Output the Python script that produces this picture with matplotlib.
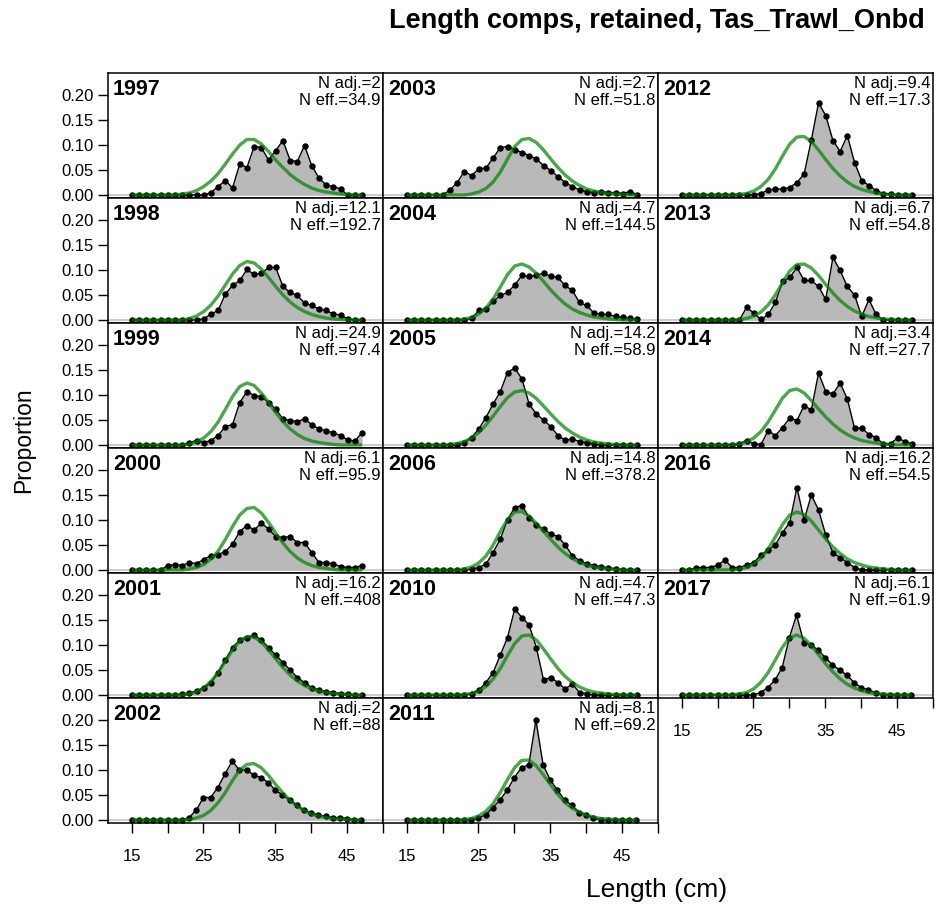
import numpy as np
import matplotlib
matplotlib.use("Agg")
import matplotlib.pyplot as plt

plt.rcParams['font.family'] = ['Liberation Sans', 'DejaVu Sans']

# length bins (cm)
lengths = list(range(15, 48))

# panel years in the order they are drawn (column by column)
col1_years = [1997, 1998, 1999, 2000, 2001, 2002]
col2_years = [2003, 2004, 2005, 2006, 2010, 2011]
col3_years = [2012, 2013, 2014, 2016, 2017]

n_adj = {1997: "2", 1998: "12.1", 1999: "24.9", 2000: "6.1", 2001: "16.2", 2002: "2",
         2003: "2.7", 2004: "4.7", 2005: "14.2", 2006: "14.8", 2010: "4.7", 2011: "8.1",
         2012: "9.4", 2013: "6.7", 2014: "3.4", 2016: "16.2", 2017: "6.1"}
n_eff = {1997: "34.9", 1998: "192.7", 1999: "97.4", 2000: "95.9", 2001: "408", 2002: "88",
         2003: "51.8", 2004: "144.5", 2005: "58.9", 2006: "378.2", 2010: "47.3", 2011: "69.2",
         2012: "17.3", 2013: "54.8", 2014: "27.7", 2016: "54.5", 2017: "61.9"}

# observed (obs_) and expected (exp_) proportions, bins 15..47
obs_1997 = [0, 0, 0, 0, 0, 0, 0, 0, 0, 0, 0,
            .005, .017, .029, .014, .062, .055, .097, .095, .070, .089, .109,
            .069, .067, .099, .059, .034, .020, .017, .012, 0, 0, 0]
exp_1997 = [0, 0, 0, 0, 0, 0, 0, .002, .004, .009, .017,
            .028, .043, .062, .082, .100, .111, .111, .102, .087, .070, .055,
            .041, .030, .021, .014, .009, .006, .004, .002, .001, 0, 0]

obs_1998 = [0, 0, 0, 0, 0, 0, 0, 0, 0, 0, .002,
            .012, .019, .052, .069, .079, .101, .091, .093, .105, .105, .067,
            .055, .049, .034, .029, .022, .019, .012, .010, .002, 0, 0]
exp_1998 = [0, 0, 0, 0, 0, 0, 0, 0, .003, .008, .017,
            .030, .048, .070, .092, .109, .117, .114, .102, .085, .067, .050,
            .036, .025, .017, .011, .007, .004, .002, .001, 0, 0, 0]

obs_1999 = [0, 0, 0, 0, 0, 0, 0, 0, .005, .009, .005,
            .009, .019, .037, .041, .085, .107, .099, .097, .085, .072, .052,
            .049, .047, .052, .041, .032, .029, .024, .019, .010, .008, .025]
exp_1999 = [0, 0, 0, 0, 0, 0, 0, 0, .002, .006, .014,
            .027, .046, .071, .097, .117, .124, .119, .104, .085, .065, .047,
            .032, .021, .013, .008, .005, .003, .001, 0, 0, 0, 0]

obs_2000 = [0, 0, 0, 0, 0, .009, .011, .009, .015, .013, .021,
            .029, .031, .037, .052, .077, .089, .080, .094, .082, .067, .065,
            .067, .055, .055, .035, .015, .015, .012, .007, .005, .005, .009]
exp_2000 = [0, 0, 0, 0, 0, 0, 0, 0, .002, .005, .011,
            .022, .038, .061, .087, .110, .123, .125, .114, .095, .074, .054,
            .037, .024, .015, .009, .005, .003, .001, 0, 0, 0, 0]

obs_2001 = [0, 0, 0, 0, 0, 0, 0, .002, .004, .008, .015,
            .025, .045, .070, .095, .110, .115, .120, .110, .095, .080, .065,
            .050, .035, .025, .015, .010, .007, .005, .003, .002, 0, 0]
exp_2001 = [0, 0, 0, 0, 0, 0, 0, 0, .002, .006, .014,
            .027, .045, .068, .090, .108, .117, .116, .106, .090, .072, .055,
            .040, .028, .019, .012, .008, .005, .003, .002, .001, 0, 0]

obs_2002 = [0, 0, 0, 0, 0, 0, 0, 0, .005, .020, .045,
            .045, .065, .092, .118, .100, .100, .090, .085, .075, .060, .050,
            .040, .030, .020, .015, .010, .008, .005, .005, .003, 0, 0]
exp_2002 = [0, 0, 0, 0, 0, 0, 0, 0, .001, .004, .009,
            .019, .034, .054, .078, .099, .111, .113, .105, .090, .072, .055,
            .040, .028, .019, .012, .008, .005, .003, .002, .001, 0, 0]

obs_2003 = [0, 0, 0, 0, 0, 0, .010, .025, .047, .039, .052,
            .054, .074, .095, .097, .091, .085, .079, .072, .059, .049, .037,
            .025, .017, .010, .007, .005, .007, .005, .005, .003, .007, .001]
exp_2003 = [0, 0, 0, 0, 0, 0, 0, 0, 0, .002, .006,
            .013, .026, .046, .072, .097, .111, .113, .105, .090, .072, .055,
            .040, .028, .019, .012, .008, .005, .003, .002, .001, 0, 0]

obs_2004 = [0, 0, 0, 0, 0, 0, 0, 0, 0, .003, .019,
            .022, .037, .049, .055, .070, .089, .087, .089, .094, .087, .085,
            .069, .059, .035, .029, .014, .011, .011, .007, .005, .003, .002]
exp_2004 = [0, 0, 0, 0, 0, 0, 0, 0, .002, .005, .012,
            .024, .042, .066, .091, .108, .112, .106, .093, .077, .060, .045,
            .032, .022, .015, .010, .006, .004, .002, .001, 0, 0, 0]

obs_2005 = [0, 0, 0, 0, 0, 0, 0, 0, .005, .015, .032,
            .055, .082, .107, .145, .154, .132, .082, .062, .050, .037, .019,
            .010, .012, .007, .005, .002, 0, 0, 0, 0, 0, 0]
exp_2005 = [0, 0, 0, 0, 0, 0, .001, .003, .007, .014, .025,
            .040, .058, .077, .095, .106, .109, .104, .093, .078, .062, .047,
            .034, .024, .016, .010, .006, .004, .002, .001, 0, 0, 0]

obs_2006 = [0, 0, 0, 0, 0, 0, 0, 0, 0, .002, .005,
            .012, .035, .062, .101, .125, .129, .105, .090, .082, .072, .067,
            .050, .029, .019, .012, .009, .007, .004, .003, .001, 0, 0]
exp_2006 = [0, 0, 0, 0, 0, 0, 0, 0, .002, .006, .014,
            .028, .050, .077, .101, .116, .117, .108, .093, .077, .061, .046,
            .033, .023, .015, .010, .006, .004, .002, .001, 0, 0, 0]

obs_2010 = [0, 0, 0, 0, 0, 0, 0, 0, 0, .003, .010,
            .025, .045, .080, .115, .172, .155, .140, .095, .030, .035, .025,
            .012, .022, .005, .003, 0, 0, 0, 0, 0, 0, 0]
exp_2010 = [0, 0, 0, 0, 0, 0, 0, 0, .001, .003, .008,
            .017, .032, .053, .079, .103, .118, .120, .110, .092, .072, .053,
            .037, .025, .016, .010, .006, .004, .002, .001, 0, 0, 0]

obs_2011 = [0, 0, 0, 0, 0, 0, 0, 0, 0, 0, .005,
            .010, .025, .040, .060, .085, .105, .110, .200, .110, .080, .060,
            .040, .030, .015, .010, .005, 0, 0, 0, 0, 0, 0]
exp_2011 = [0, 0, 0, 0, 0, 0, 0, 0, .001, .003, .008,
            .017, .032, .054, .080, .104, .119, .120, .109, .091, .071, .052,
            .036, .024, .016, .010, .006, .003, .002, .001, 0, 0, 0]

obs_2012 = [0, 0, 0, 0, 0, 0, 0, 0, 0, 0, 0,
            .003, .010, .012, .012, .015, .025, .042, .110, .184, .159, .109,
            .087, .119, .065, .029, .019, .009, .003, .002, 0, 0, 0]
exp_2012 = [0, 0, 0, 0, 0, 0, 0, 0, .001, .003, .008,
            .017, .031, .052, .078, .102, .116, .117, .107, .090, .071, .053,
            .038, .026, .017, .011, .007, .004, .002, .001, 0, 0, 0]

obs_2013 = [0, 0, 0, 0, 0, 0, 0, 0, 0, .025, .014,
            .001, .011, .035, .077, .085, .105, .079, .079, .067, .041, .125,
            .099, .067, .050, .007, .041, .011, 0, 0, 0, 0, 0]
exp_2013 = [0, 0, 0, 0, 0, 0, 0, 0, .001, .003, .008,
            .016, .030, .050, .075, .098, .111, .112, .104, .089, .071, .054,
            .039, .027, .018, .012, .007, .004, .002, .001, 0, 0, 0]

obs_2014 = [0, 0, 0, 0, 0, 0, 0, 0, .003, .009, .003,
            .001, .029, .019, .035, .054, .049, .079, .070, .144, .107, .102,
            .124, .092, .034, .034, .021, .015, .002, .003, .014, .007, .002]
exp_2014 = [0, 0, 0, 0, 0, 0, 0, .001, .002, .006, .014,
            .027, .046, .070, .094, .109, .112, .104, .089, .072, .056, .042,
            .030, .021, .014, .009, .006, .004, .002, .001, 0, 0, 0]

obs_2016 = [0, 0, .005, .005, .005, .010, .020, .005, .005, .010, .015,
            .030, .040, .050, .075, .095, .165, .100, .150, .120, .070, .035,
            .025, .015, .005, 0, 0, 0, 0, 0, 0, 0, 0]
exp_2016 = [0, 0, 0, 0, 0, 0, 0, 0, .002, .005, .012,
            .024, .042, .066, .091, .110, .116, .111, .098, .080, .062, .046,
            .033, .022, .015, .010, .006, .004, .002, .001, 0, 0, 0]

obs_2017 = [0, 0, 0, 0, 0, 0, 0, 0, 0, 0, 0,
            .005, .015, .030, .055, .115, .160, .105, .100, .090, .075, .060,
            .050, .040, .025, .015, .010, .005, 0, 0, 0, 0, 0]
exp_2017 = [0, 0, 0, 0, 0, 0, 0, 0, .002, .005, .012,
            .025, .044, .069, .095, .114, .120, .114, .100, .082, .063, .047,
            .033, .022, .014, .009, .005, .003, .002, .001, 0, 0, 0]

observed = {1997: obs_1997, 1998: obs_1998, 1999: obs_1999, 2000: obs_2000, 2001: obs_2001,
            2002: obs_2002, 2003: obs_2003, 2004: obs_2004, 2005: obs_2005, 2006: obs_2006,
            2010: obs_2010, 2011: obs_2011, 2012: obs_2012, 2013: obs_2013, 2014: obs_2014,
            2016: obs_2016, 2017: obs_2017}
expected = {1997: exp_1997, 1998: exp_1998, 1999: exp_1999, 2000: exp_2000, 2001: exp_2001,
            2002: exp_2002, 2003: exp_2003, 2004: exp_2004, 2005: exp_2005, 2006: exp_2006,
            2010: exp_2010, 2011: exp_2011, 2012: exp_2012, 2013: exp_2013, 2014: exp_2014,
            2016: exp_2016, 2017: exp_2017}

W, H = 936, 906
left0, top0, pw, ph = 108, 73, 275, 125
green = (0, 0.5, 0, 0.7)

fig = plt.figure(figsize=(W / 100, H / 100), dpi=100)


def draw_panel(ax, yr, show_y, show_x):
    obs = observed[yr]
    exp = expected[yr]
    ax.axhline(0, color='#c8c8c8', lw=1.3, zorder=1)
    ax.fill_between(lengths, obs, 0, color='#b9b9b9', lw=0, zorder=2)
    ax.plot(lengths, obs, color='black', lw=1.0, marker='o', ms=3.6, zorder=3)
    ax.plot(lengths, exp, color=green, lw=2.4, zorder=4, solid_capstyle='butt')
    ax.set_xlim(11.7, 49.9)
    ax.set_ylim(-0.006, 0.244)
    for s in ax.spines.values():
        s.set_linewidth(1.1)
    ax.text(0.018, 0.955, str(yr), transform=ax.transAxes, ha='left', va='top',
            fontsize=15.5, fontweight='bold')
    ax.text(0.992, 0.975, "N adj.=%s\nN eff.=%s" % (n_adj[yr], n_eff[yr]),
            transform=ax.transAxes, ha='right', va='top', fontsize=12, linespacing=1.12)
    ax.tick_params(direction='out', length=7.5, width=1, labelsize=12, pad=3)
    if show_y:
        ax.set_yticks([0, 0.05, 0.10, 0.15, 0.20])
        ax.set_yticklabels(["0.00", "0.05", "0.10", "0.15", "0.20"])
    else:
        ax.set_yticks([])
    if show_x:
        ax.set_xticks(range(15, 51, 5))
        ax.set_xticklabels([str(v) if v % 10 == 5 else "" for v in range(15, 51, 5)])
        ax.tick_params(axis='x', pad=11)
    else:
        ax.set_xticks([])


for col, years in enumerate([col1_years, col2_years, col3_years]):
    for row, yr in enumerate(years):
        rect = [(left0 + col * pw) / W, 1 - (top0 + (row + 1) * ph) / H, pw / W, ph / H]
        ax = fig.add_axes(rect)
        draw_panel(ax, yr, show_y=(col == 0), show_x=(row == len(years) - 1))

fig.text(925 / W, 1 - 21 / H, "Length comps, retained, Tas_Trawl_Onbd", ha='right',
         va='center', fontsize=19.5, fontweight='bold')
fig.text(24 / W, 1 - 440 / H, "Proportion", rotation=90, ha='center', va='center', fontsize=16.5)
fig.text(657 / W, 1 - 890 / H, "Length (cm)", ha='center', va='center', fontsize=19)

fig.savefig("out.png", dpi=100)
